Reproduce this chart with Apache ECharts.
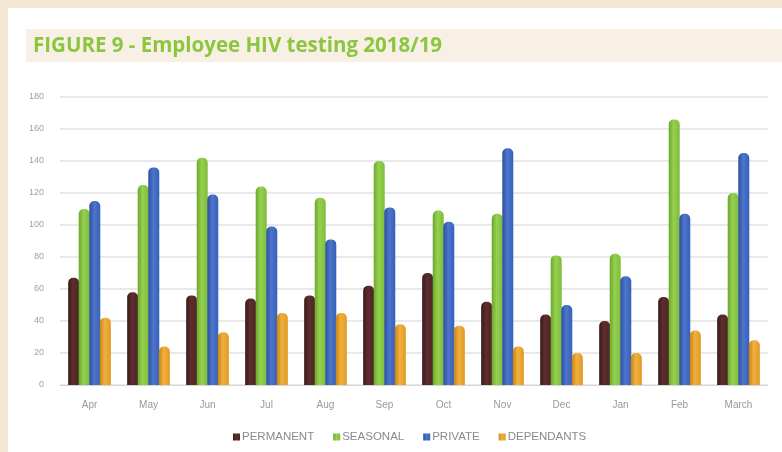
<!DOCTYPE html>
<html>
<head>
<meta charset="utf-8">
<script src="https://cdn.jsdelivr.net/npm/echarts@6/dist/echarts.min.js"></script>
<style>
  html, body { margin: 0; padding: 0; background: #f3e6d2; }
  #chart { width: 782px; height: 452px; }
</style>
</head>
<body>
<div id="chart"></div>
<script>
var months = ['Apr', 'May', 'Jun', 'Jul', 'Aug', 'Sep', 'Oct', 'Nov', 'Dec', 'Jan', 'Feb', 'March'];
var permanent = [67, 58, 56, 54, 56, 62, 70, 52, 44, 40, 55, 44];
var seasonal = [110, 125, 142, 124, 117, 140, 109, 107, 81, 82, 166, 120];
var privateSector = [115, 136, 119, 99, 91, 111, 102, 148, 50, 68, 107, 145];
var dependants = [42, 24, 33, 45, 45, 38, 37, 24, 20, 20, 34, 28];

var chart = echarts.init(document.getElementById('chart'));

// fake the cylinder look with a sideways gradient
function cyl(dark, mid, light) {
	return new echarts.graphic.LinearGradient(0, 0, 1, 0, [
		{ offset: 0, color: dark },
		{ offset: 0.45, color: light },
		{ offset: 1, color: mid }
	]);
}

function barSeries(name, data, col) {
	return {
		name: name,
		type: 'bar',
		data: data,
		barWidth: 11,
		barGap: '-4%',
		itemStyle: { color: col, borderRadius: [5, 5, 0, 0] }
	};
}

var option = {
	backgroundColor: '#f3e6d2',
	animation: false,
	graphic: [
		{ type: 'rect', left: 8, top: 8, shape: { width: 774, height: 444 }, style: { fill: '#ffffff' }, z: -10 },
		{ type: 'rect', left: 26, top: 29, shape: { width: 756, height: 33 }, style: { fill: '#f8f0e4' }, z: -9 },
		{ type: 'text', left: 33, top: 36, style: { text: 'FIGURE 9 - Employee HIV testing 2018/19', fill: '#8cc63f', font: 'bold 20.5px "Open Sans"' } }
	],
	legend: {
		bottom: 4,
		left: 228,
		itemWidth: 7,
		itemHeight: 7,
		itemGap: 19,
		icon: 'rect',
		textStyle: { color: '#8a8a8a', fontSize: 11.5, fontFamily: 'Liberation Sans', padding: [0, 0, 0, -3] },
		data: ['PERMANENT', 'SEASONAL', 'PRIVATE', 'DEPENDANTS']
	},
	grid: { left: 60, right: 14, top: 97, bottom: 67 },
	xAxis: {
		type: 'category',
		data: months,
		axisLine: { lineStyle: { color: '#d6d6d6' } },
		axisTick: { show: false },
		axisLabel: { color: '#999', fontSize: 10, fontFamily: 'Liberation Sans', margin: 15 }
	},
	yAxis: {
		type: 'value',
		min: 0,
		max: 180,
		interval: 20,
		axisLine: { show: false },
		axisTick: { show: false },
		axisLabel: { color: '#a0a0a0', fontSize: 9, fontFamily: 'Liberation Sans', margin: 16 },
		splitLine: { lineStyle: { color: '#e2e2e2', width: 1.5 } }
	},
	series: [
		barSeries('PERMANENT', permanent, cyl('#3a1a1a', '#4d2424', '#5e2e2e')),
		barSeries('SEASONAL', seasonal, cyl('#6aa82e', '#7cbd3a', '#96d04e')),
		barSeries('PRIVATE', privateSector, cyl('#2c4f9e', '#3760b8', '#4d75cc')),
		barSeries('DEPENDANTS', dependants, cyl('#c98412', '#e09a22', '#f0b040'))
	]
};

chart.setOption(option);
</script>
</body>
</html>
